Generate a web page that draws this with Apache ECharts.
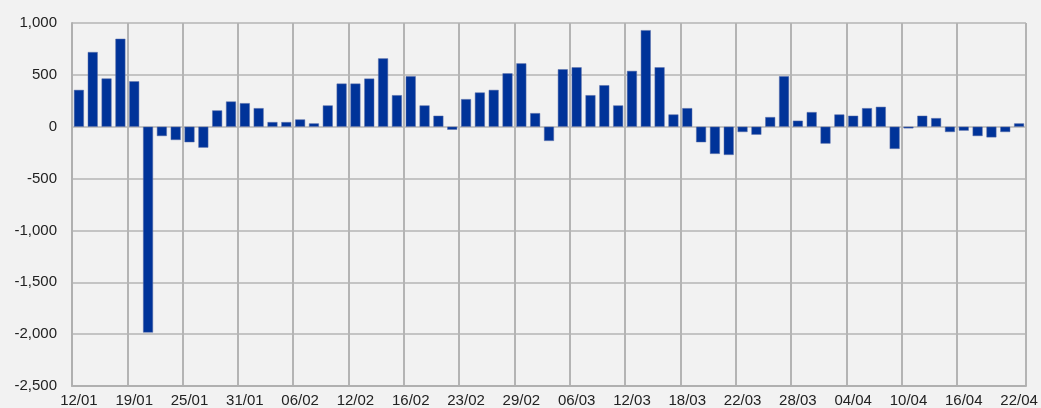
<!DOCTYPE html>
<html>
<head>
<meta charset="utf-8">
<script src="https://cdn.jsdelivr.net/npm/echarts@6/dist/echarts.min.js"></script>
<style>
  html, body { margin: 0; padding: 0; background: #f2f2f2; }
  #chart { width: 1041px; height: 408px; }
</style>
</head>
<body>
<div id="chart"></div>
<script>
// dates (dd/mm), every 4th one is shown on the axis
var categories = [
  '12/01','13/01','16/01','17/01',
  '19/01','20/01','23/01','24/01',
  '25/01','26/01','27/01','30/01',
  '31/01','01/02','02/02','03/02',
  '06/02','07/02','08/02','09/02',
  '12/02','13/02','14/02','15/02',
  '16/02','17/02','20/02','21/02',
  '23/02','24/02','27/02','28/02',
  '29/02','01/03','02/03','05/03',
  '06/03','07/03','08/03','09/03',
  '12/03','13/03','14/03','15/03',
  '18/03','19/03','20/03','21/03',
  '22/03','23/03','26/03','27/03',
  '28/03','29/03','30/03','02/04',
  '04/04','05/04','06/04','09/04',
  '10/04','11/04','12/04','13/04',
  '16/04','17/04','18/04','19/04',
  '22/04'
];

var values = [
  355, 720, 465, 848, 438, -1985, -90, -128, -150, -202,
  157, 243, 227, 179, 45, 45, 70, 32, 205, 416,
  416, 464, 659, 304, 487, 205, 106, -29, 266, 330,
  355, 515, 611, 131, -137, 554, 573, 304, 400, 205,
  538, 931, 573, 118, 179, -150, -262, -272, -51, -77,
  93, 487, 58, 141, -163, 118, 106, 179, 192, -214,
  -16, 106, 83, -51, -38, -90, -103, -51, 32
];

var chart = echarts.init(document.getElementById('chart'));
chart.setOption({
  backgroundColor: '#f2f2f2',
  animation: false,
  grid: { left: 72, right: 15, top: 23, bottom: 21 },
  xAxis: {
    type: 'category',
    data: categories,
    axisLine: { onZero: false, lineStyle: { color: '#b0b0b0', width: 2 } },
    axisTick: { show: false, interval: 3 },
    axisLabel: {
      interval: 3,
      margin: 7,
      color: '#222',
      fontSize: 15,
      fontFamily: 'Liberation Sans, Arial, sans-serif'
    },
    splitLine: {
      show: true,
      interval: function (index) { return index % 4 === 0 && index < categories.length - 1; },
      lineStyle: { color: '#b4b4b4', width: 2 }
    }
  },
  yAxis: {
    type: 'value',
    min: -2500,
    max: 1000,
    interval: 500,
    axisLine: { show: true, lineStyle: { color: '#b0b0b0', width: 2 } },
    axisTick: { show: false },
    axisLabel: {
      margin: 15,
      color: '#222',
      fontSize: 15,
      fontFamily: 'Liberation Sans, Arial, sans-serif',
      formatter: function (v) { return v.toLocaleString('en-US'); }
    },
    splitLine: { lineStyle: { color: '#c4c4c4', width: 2 } }
  },
  series: [
    {
      type: 'bar',
      data: values,
      barCategoryGap: '28%',
      itemStyle: { color: '#003399', borderColor: '#5a6ea8', borderWidth: 0.5 }
    }
  ]
});
</script>
</body>
</html>
